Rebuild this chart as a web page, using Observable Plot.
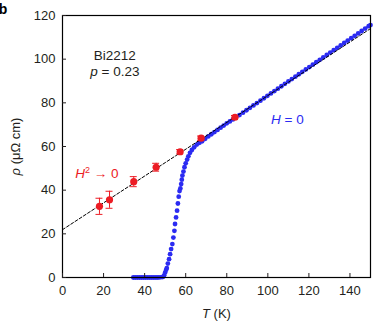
<!DOCTYPE html>
<html><head><meta charset="utf-8">
<script src="https://cdn.jsdelivr.net/npm/d3@7"></script>
<script src="https://cdn.jsdelivr.net/npm/@observablehq/plot@0.6"></script>
<style>body{margin:0;background:#fff} svg{display:block}</style>
</head><body><div id="chart"></div>
<script>
// Zero-field resistivity (blue dots)
const blueT = [34.5,35.5,36.5,37.5,38.5,39.5,40.5,41.5,42.5,43.5,44.5,45.5,46.5,47.5,48.5,
  49.0,49.5,50.0,50.5,50.8,51.3,51.9,52.4,52.9,53.5,54.0,54.5,54.8,55.3,55.8,56.2,56.6,57.0,
  57.4,57.8,58.1,58.4,58.9,59.4,60.0,60.7,61.3,62.1,63.0,64.1,65.4,66.7,68.0,69.5,71.0,72.5,
  74.0,75.5,77.0,78.5,80.0,81.5,83.0,84.5,86.2,87.9,89.6,91.3,93.0,94.7,96.4,98.1,99.8,101.5,
  103.2,104.9,106.6,108.3,110.0,111.7,113.4,115.1,116.8,118.5,120.2,121.9,123.6,125.3,127.0,
  128.7,130.4,132.1,133.8,135.5,137.2,138.9,140.6,142.3,144.0,145.7,147.4,149.1,150.0];
const blueRho = [0,0,0,0,0,0,0,0,0,0,0,0,0,0.1,0.2,
  0.3,1.0,2.3,3.5,4.3,6.4,8.4,10.7,13.0,15.3,18.3,21.4,24.5,27.5,30.6,33.9,37.0,39.6,
  40.8,42.8,44.8,46.7,48.5,50.5,52.3,54.0,55.5,57.1,58.4,59.6,60.9,61.7,62.4,63.5,64.6,65.6,
  66.6,67.6,68.6,69.6,70.6,71.5,72.4,73.3,74.4,75.5,76.6,77.7,78.8,79.9,81.0,82.1,83.2,84.3,
  85.4,86.5,87.6,88.7,89.8,90.9,92.0,93.1,94.2,95.3,96.4,97.5,98.6,99.7,100.8,
  101.9,103.0,104.1,105.2,106.3,107.4,108.5,109.6,110.7,111.8,112.9,114.0,115.1,115.6];
// H^2 -> 0 extrapolated values (red) with error bars
const redT = [18.0, 22.9, 34.7, 45.6, 57.3, 67.5, 84.0];
const redRho = [32.6, 35.6, 43.9, 50.5, 57.6, 63.8, 73.4];
const redErr = [3.7, 3.9, 2.3, 1.8, 1.0, 1.0, 0.8];
// linear fit (dashed)
const fitT = [0, 150];
const fitRho = [21.9, 114.0];
const xTicks = [0, 20, 40, 60, 80, 100, 120, 140];
const yTicks = [0, 20, 40, 60, 80, 100, 120];

const blue = blueT.map((t, i) => ({T: t, rho: blueRho[i]}));
const red = redT.map((t, i) => ({T: t, rho: redRho[i], lo: redRho[i] - redErr[i], hi: redRho[i] + redErr[i]}));
const fit = fitT.map((t, i) => ({T: t, rho: fitRho[i]}));
const capHalf = 1.7;

const BLUE = "#2b2bf2", RED = "#ec1c24", INK = "#231f20";

const svg = Plot.plot({
  width: 374, height: 321,
  marginLeft: 62, marginRight: 4, marginTop: 15, marginBottom: 44,
  style: {fontFamily: "'Liberation Sans', Arial, sans-serif", fontSize: "13px", color: INK, background: "#fff"},
  x: {domain: [0, 150]},
  y: {domain: [0, 120]},
  marks: [
    Plot.dot(blue, {x: "T", y: "rho", r: 2.4, fill: BLUE, stroke: null}),
    Plot.line(fit, {x: "T", y: "rho", stroke: "#000", strokeWidth: 1, strokeDasharray: "3,2"}),
    Plot.ruleX(red, {x: "T", y1: "lo", y2: "hi", stroke: RED, strokeWidth: 1}),
    Plot.ruleY(red, {y: "lo", x1: d => d.T - capHalf, x2: d => d.T + capHalf, stroke: RED, strokeWidth: 1}),
    Plot.ruleY(red, {y: "hi", x1: d => d.T - capHalf, x2: d => d.T + capHalf, stroke: RED, strokeWidth: 1}),
    Plot.dot(red, {x: "T", y: "rho", r: 3.6, fill: RED, stroke: null}),
    Plot.frame({stroke: "#000", strokeWidth: 1.2}),
    Plot.axisX({ticks: xTicks, tickSize: -4, tickPadding: 12, label: "T (K)", labelAnchor: "center", labelOffset: 40, labelArrow: "none"}),
    Plot.axisY({ticks: yTicks, tickSize: -4, tickPadding: 11, label: "ρ (μΩ cm)", labelAnchor: "center", labelOffset: 52, labelArrow: "none"}),
    Plot.text(["Bi2212"], {x: 25.5, y: 101.7, text: d => d, fontSize: 13.5, fill: INK}),
    Plot.text(["p = 0.23"], {x: 25.5, y: 94.4, text: d => d, fontSize: 13.5, fill: INK}),
    Plot.text(["H2 → 0"], {x: 6.2, y: 47.6, text: d => d, textAnchor: "start", fontSize: 13.5, fill: RED}),
    Plot.text(["H = 0"], {x: 101.6, y: 72.3, text: d => d, textAnchor: "start", fontSize: 13.5, fill: BLUE})
  ]
});

// rich text: italics and superscript
d3.select(svg).selectAll("text").each(function() {
  const t = this.textContent;
  if (t === "H2 → 0") this.innerHTML = '<tspan font-style="italic">H</tspan><tspan font-size="9" dy="-5">2</tspan><tspan dy="5"> → 0</tspan>';
  else if (t === "H = 0") this.innerHTML = '<tspan font-style="italic">H</tspan> = 0';
  else if (t === "p = 0.23") this.innerHTML = '<tspan font-style="italic">p</tspan> = 0.23';
  else if (t === "T (K)") this.innerHTML = '<tspan font-style="italic">T</tspan> (K)';
  else if (t === "ρ (μΩ cm)") this.innerHTML = '<tspan font-style="italic">ρ</tspan> (μΩ cm)';
});
// panel letter
d3.select(svg).append("text").attr("x", 3).attr("y", 14).attr("font-weight", "bold")
  .attr("font-size", 14).attr("fill", "#000").text("b");

document.getElementById("chart").appendChild(svg);
</script>
</body></html>
